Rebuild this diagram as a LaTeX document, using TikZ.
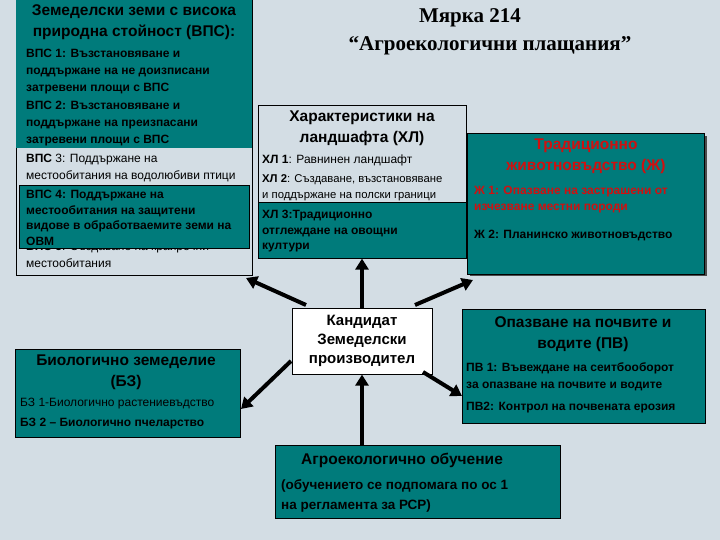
\documentclass[tikz,border=0pt]{standalone}
\usepackage{fontspec}
\setmainfont{Liberation Sans}
\newfontfamily\serifb{Liberation Serif}
\usetikzlibrary{arrows.meta}
\definecolor{bg}{HTML}{D3DDE4}
\definecolor{teal1}{HTML}{007B7B}
\definecolor{redt}{HTML}{D01010}
\tikzset{
 tealbox/.style={draw=black,fill=teal1,line width=0.6pt,anchor=north west,inner sep=0pt},
 lightbox/.style={draw=black,fill=bg,line width=0.6pt,anchor=north west,inner sep=0pt},
 whitebox/.style={draw=black,fill=white,line width=0.6pt,anchor=north west,inner sep=0pt},
 txt/.style={anchor=north west,align=left,inner sep=0pt,font=\fontsize{12}{17}\selectfont},
 btxt/.style={txt,font=\bfseries\fontsize{12}{17}\selectfont},
 ttl/.style={align=center,inner sep=0pt,font=\bfseries\fontsize{15.5}{21}\selectfont},
 big/.style={line width=4pt,-{Triangle[length=11pt,width=13pt]}}
}
\begin{document}
\begin{tikzpicture}[x=1pt,y=-1pt]
\fill[bg] (0,0) rectangle (720,540);
\useasboundingbox (0,0) rectangle (720,540);
% left VPS block
\node[lightbox,minimum width=236pt,minimum height=275pt] (vps) at (16,0) {};
\fill[teal1] (16.3,0) rectangle (251.7,148);
\node[txt] (v5) at (26,241) {\textbf{ВПС 5}: Създаване на крайречни\\местообитания};
\node[tealbox,minimum width=230pt,minimum height=63pt] (v4) at (19,185) {};
\node[ttl] (vt) at (134,22) {Земеделски земи с висока\\природна стойност (ВПС):};
\node[btxt] (v1) at (26,49) {ВПС 1: Възстановяване  и\\поддържане на не доизписани\\затревени площи с ВПС};
\node[btxt] (v2) at (26,101) {ВПС 2: Възстановяване и\\поддържане на преизпасани\\затревени площи с ВПС};
\node[txt] (v3) at (26,154) {\textbf{ВПС} 3: Поддържане на\\местообитания на водолюбиви птици};
\node[btxt,font=\bfseries\fontsize{12}{15.5}\selectfont] (v4t) at (26,190) {ВПС 4:  Поддържане на\\местообитания на защитени\\видове в обработваемите земи на\\ОВМ};
% title
\node[font=\serifb\bfseries\fontsize{21}{25}\selectfont] (t1) at (470,18) {Мярка 214};
\node[font=\serifb\bfseries\fontsize{21}{25}\selectfont] (t2) at (490,46) {“Агроекологични плащания”};
% XL
\node[lightbox,minimum width=208pt,minimum height=153pt] (xl) at (258,105) {};
\node[tealbox,minimum width=208pt,minimum height=56pt] (xl3) at (258,202) {};
\node[ttl] (xlt) at (362,128) {Характеристики на\\ландшафта  (ХЛ)};
\node[txt] (xl1) at (262,155) {\textbf{ХЛ 1}: Равнинен ландшафт};
\node[txt,font=\fontsize{11.3}{16}\selectfont] (xl2) at (262,174) {\textbf{ХЛ 2}: Създаване, възстановяване\\и поддържане на полски граници};
\node[btxt,font=\bfseries\fontsize{12}{15.5}\selectfont] (xl3t) at (262,210) {ХЛ 3:Традиционно\\отглеждане на овощни\\култури};
% Zh
\fill[black!70] (470,136) rectangle (707,276);
\node[tealbox,minimum width=237pt,minimum height=141pt] (zh) at (467,133) {};
\node[ttl,text=redt] (zht) at (586,156) {Традиционно\\животновъдство (Ж)};
\node[btxt,text=redt,font=\bfseries\fontsize{12}{15.5}\selectfont] (zh1) at (474,186) {Ж 1: Опазване на застрашени от\\изчезване местни породи};
\node[btxt] (zh2) at (474,230) {Ж 2: Планинско животновъдство};
% Kandidat
\node[whitebox,minimum width=140pt,minimum height=66pt] (kand) at (292,308) {};
\node[ttl,font=\bfseries\fontsize{15}{19}\selectfont] (kandt) at (362,341) {Кандидат\\Земеделски\\производител};
% Bio
\node[tealbox,minimum width=225pt,minimum height=88pt] (bio) at (15,349) {};
\node[ttl] (biot) at (126,372) {Биологично земеделие\\(БЗ)};
\node[txt] (bio1) at (20,398) {БЗ 1-Биологично растениевъдство};
\node[btxt] (bio2) at (20,418) {БЗ 2 – Биологично пчеларство};
% PV
\node[tealbox,minimum width=243pt,minimum height=114pt] (pv) at (462,309) {};
\node[ttl] (pvt) at (583,334) {Опазване на почвите и\\водите (ПВ)};
\node[btxt] (pv1) at (466,362) {ПВ 1: Въвеждане на сеитбооборот\\за опазване на почвите и водите};
\node[btxt] (pv2) at (466,402) {ПВ2: Контрол на почвената ерозия};
% Agro
\node[tealbox,minimum width=285pt,minimum height=73pt] (agro) at (275,445) {};
\node[ttl] (agrot) at (402,460) {Агроекологично обучение};
\node[btxt,font=\bfseries\fontsize{13.5}{20}\selectfont] (agro2) at (281,479) {(обучението се подпомага по ос 1\\на регламента за РСР)};
% arrows
\coordinate (a1) at (306,305); \coordinate (b1) at (246,278);
\coordinate (a2) at (415,305); \coordinate (b2) at (473,280);
\coordinate (a3) at (291,361); \coordinate (b3) at (241,409);
\coordinate (a4) at (423,372); \coordinate (b4) at (462,396);
\draw[big] (kand.north -| xlt) -- (xl.south -| xlt);
\draw[big] (a1) -- (b1);
\draw[big] (a2) -- (b2);
\draw[big] (a3) -- (b3);
\draw[big] (a4) -- (b4);
\draw[big] (agro.north -| kandt) -- (kand.south -| kandt);
\end{tikzpicture}
\end{document}
